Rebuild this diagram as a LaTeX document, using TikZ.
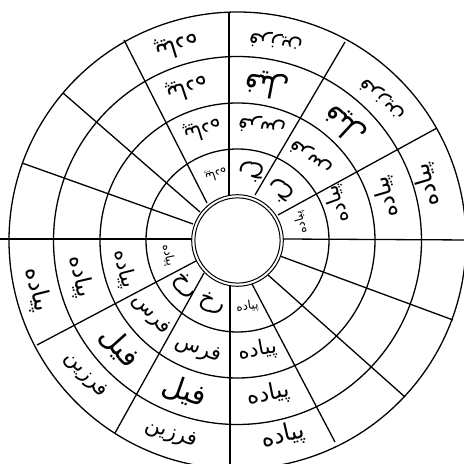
\documentclass[tikz,border=0pt]{standalone}
\usepackage{fontspec}
\newfontfamily\arabicfont[Script=Arabic]{DejaVu Sans}
\TeXXeTstate=1
\tikzset{
  ring/.style={draw=black, line width=1.3pt},
  hub/.style={draw=black, line width=1.0pt},
  spoke/.style={draw=black, line width=1.3pt},
  piece/.style={inner sep=0pt, text=black}
}

\begin{document}
\begin{tikzpicture}[x=1pt,y=1pt]
  \useasboundingbox (0,0) rectangle (464,464);
  \clip (0,0) rectangle (464,464);
  \coordinate (O) at (237.5,223.5);

  \foreach \r in {91.5,137.5,184,228.5}
    \draw[ring] (O) circle (\r pt);
  \draw[hub] (O) circle (45.8pt);
  \draw[hub] (O) circle (42.6pt);

  \foreach \xa/\ya/\xb/\yb in {229/452/229/269, 124/424/207/261, 63/371/200/252, 22/301/193/240,
      0/225/192/225, 37/119/196/203, 115/31/204/191, 230/-10/230/179,
      335/22/252/180, 405/67/268/189, 453/144/280/208, 283/225/470/224,
      437/336/278/249, 345/422/255/269}
    \draw[spoke] (\xa,\ya) -- (\xb,\yb);

  \begin{scope}[shift={(O)}]
    \foreach \t/\r/\s/\w [count=\i] in {
        16/66/12/پیاده, 20/107/21/پیاده, 16.2/155.7/23/پیاده, 16.3/198/24/پیاده,
        49/66/23/رخ, 48.7/111/21/فرس, 47.1/158/29/فیل, 44.2/202/21/فرزین,
        78.4/70/23/رخ, 78/117/21/فرس, 79.1/158/29/فیل, 79.1/202/21/فرزین,
        108/70/12/پیاده, 107.4/116/21/پیاده, 108.3/160.6/23/پیاده, 107.1/204/24/پیاده,
        192/71/12/پیاده, 194.1/117/21/پیاده, 193/161.7/23/پیاده, 193.9/206.5/24/پیاده,
        221/69/23/رخ, 220.6/114/21/فرس, 222.1/159/29/فیل, 221.6/203/21/فرزین,
        248/68/23/رخ, 250/116/21/فرس, 250.6/160/29/فیل, 251.1/205/21/فرزین,
        278.5/67/12/پیاده, 280.3/112/21/پیاده, 281.4/157/23/پیاده, 283.2/201/24/پیاده}
      \node[piece, rotate=\t+90, font=\arabicfont\fontsize{\s}{\s}\selectfont] (w\i) at (\t:\r) {\beginR\w\endR};
  \end{scope}
\end{tikzpicture}
\end{document}
